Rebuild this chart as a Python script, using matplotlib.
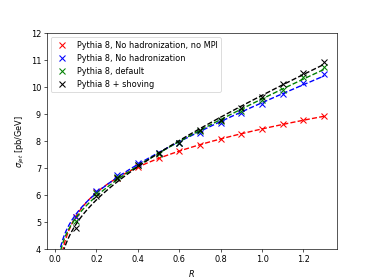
import numpy as np
import matplotlib.pyplot as plt

R = [0.1, 0.2, 0.3, 0.4, 0.5, 0.6, 0.7, 0.8, 0.9, 1.0, 1.1, 1.2, 1.3]
sig_nohad_nompi = [5.18, 6.12, 6.65, 7.05, 7.36, 7.63, 7.85, 8.07, 8.26, 8.44, 8.63, 8.78, 8.94]
sig_nohad = [5.2, 6.15, 6.75, 7.2, 7.55, 7.95, 8.32, 8.68, 9.03, 9.37, 9.74, 10.14, 10.5]
sig_default = [5.05, 6.07, 6.68, 7.12, 7.52, 7.93, 8.37, 8.76, 9.12, 9.54, 9.91, 10.36, 10.73]
sig_shoving = [4.77, 5.97, 6.63, 7.1, 7.55, 7.95, 8.41, 8.8, 9.21, 9.64, 10.1, 10.53, 10.95]

series = [
    (sig_nohad_nompi, 'r', 'Pythia 8, No hadronization, no MPI'),
    (sig_nohad, 'b', 'Pythia 8, No hadronization'),
    (sig_default, 'g', 'Pythia 8, default'),
    (sig_shoving, 'k', 'Pythia 8 + shoving'),
]


def fitcurve(x, y, xs):
    x = np.asarray(x)
    A = np.vstack([np.ones_like(x), np.log(x), x]).T
    c = np.linalg.lstsq(A, np.asarray(y), rcond=None)[0]
    return c[0] + c[1] * np.log(xs) + c[2] * xs


plt.figure(figsize=(6.4, 4.8), dpi=374 / 6.4)
xs = np.linspace(0.01, 1.3, 300)
for y, c, lab in series:
    plt.plot(R, y, 'x', color=c, label=lab, ms=7, mew=1.3)
    plt.plot(xs, fitcurve(R, y, xs), '--', color=c, lw=1.7)

plt.xlim(-0.04, 1.36)
plt.ylim(4, 12)
plt.xlabel(r'$R$')
plt.ylabel(r'$\sigma_{jet}$ [pb/GeV]')
plt.legend(loc='upper left')
plt.savefig('out.png')
